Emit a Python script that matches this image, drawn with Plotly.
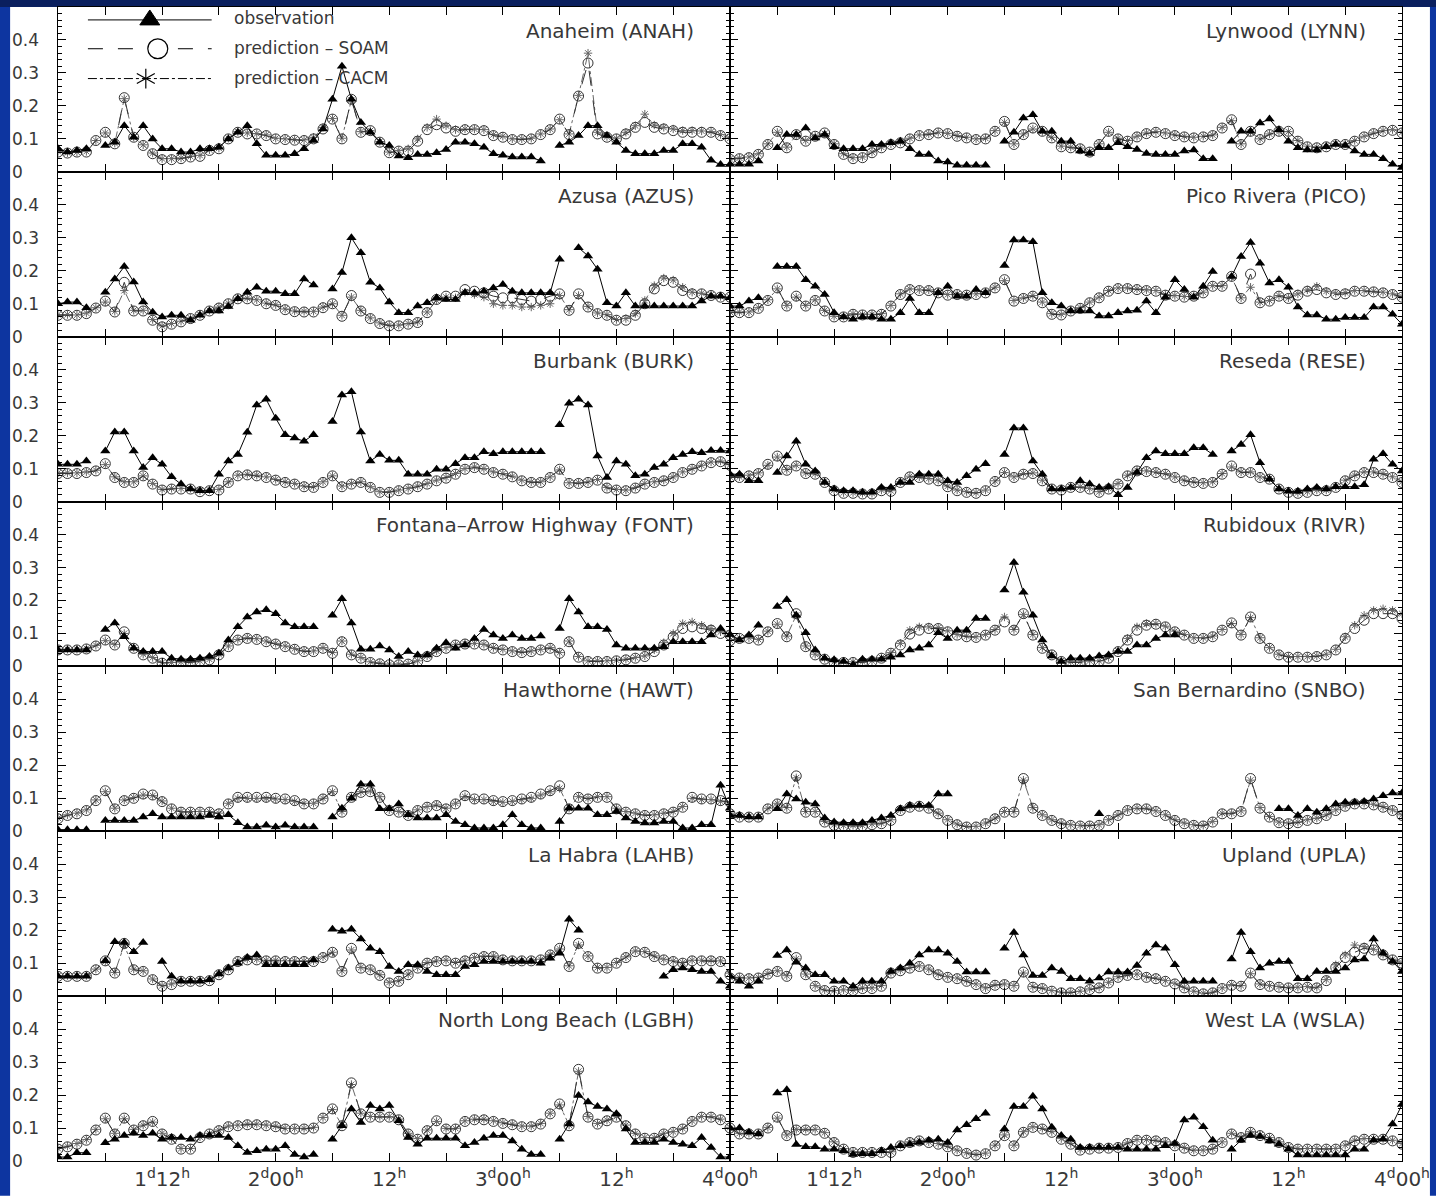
import plotly.graph_objects as go
from plotly.subplots import make_subplots

N = None

# Hour of the episode (hours counted from 0d00h): 25 = 1d01h ... 96 = 4d00h
hours = list(range(25, 97))

# ---------------- ozone, ppm ----------------
obs_anah = [
    .07, .06, .065, .07, N, .08, .09, .14, .105, .14, .10, .07,
    .07, .06, .06, .07, .07, .075, .10, .12, .14, .085, .05, .05,
    .05, .055, .07, .095, .13, .22, .32, .22, .15, .12, .09, .08,
    .048, .043, .053, .053, .058, .068, .09, .09, .085, .075, .055, .05,
    .045, .045, .045, .033, N, .08, .09, .11, .14, .14, .11, .09,
    .065, .055, .055, .055, .065, .065, .085, .085, .075, .035, .022, .022]
soam_anah = [
    .06, .057, .06, .06, .095, .12, .085, .225, .105, .08, .055, .037,
    .037, .04, .045, .047, .065, .07, .10, .12, .115, .115, .11, .10,
    .098, .096, .095, .10, .13, .16, .10, .22, .12, .125, .09, .058,
    .063, .063, .093, .128, .143, .133, .123, .128, .128, .125, .11, .105,
    .098, .098, .10, .113, .128, .16, .113, .23, .33, .115, .105, .10,
    .115, .135, .15, .135, .13, .125, .12, .12, .12, .12, .11, .10]
cacm_anah = [
    .062, .058, .06, .062, .095, .118, .087, .222, .105, .082, .057, .04,
    .04, .042, .047, .05, .067, .072, .102, .122, .118, .116, .112, .102,
    .10, .098, .097, .105, .135, .162, .102, .218, .122, .125, .092, .06,
    .065, .07, .10, .135, .16, .14, .128, .13, .13, .128, .113, .108,
    .10, .10, .102, .115, .13, .158, .115, .232, .36, .12, .107, .102,
    .12, .14, .175, .142, .135, .13, .125, .125, .124, .122, .113, .102]

obs_lynn = [
    .023, .023, .023, .033, N, .073, .113, .113, .133, .103, .113, .076,
    .07, .07, .07, .083, .083, .088, .093, .07, .053, .053, .033, .03,
    .02, .02, .02, .02, N, .093, .12, .163, .173, .123, .123, .093,
    .093, .063, .056, .073, .073, .088, .076, .068, .056, .053, .053, .053,
    .063, .066, .04, .04, N, .093, .123, .123, .148, .16, .128, .093,
    .073, .066, .066, .076, .083, .08, .063, .053, .053, .04, .023, .013]
soam_lynn = [
    .038, .04, .043, .053, .083, .123, .073, .113, .093, .108, .118, .083,
    .053, .04, .043, .058, .073, .083, .088, .10, .11, .113, .118, .116,
    .108, .103, .098, .10, .123, .153, .083, .113, .133, .123, .103, .076,
    .073, .07, .06, .083, .123, .10, .093, .106, .116, .12, .116, .11,
    .106, .103, .106, .11, .133, .158, .083, .123, .098, .113, .123, .123,
    .093, .076, .073, .076, .083, .083, .093, .106, .116, .123, .126, .118]
cacm_lynn = [
    .04, .042, .045, .055, .085, .12, .075, .11, .095, .108, .116, .085,
    .055, .043, .045, .06, .075, .085, .09, .102, .112, .115, .12, .117,
    .11, .105, .10, .102, .125, .15, .085, .115, .13, .122, .105, .078,
    .075, .072, .062, .085, .12, .102, .095, .108, .118, .122, .118, .112,
    .108, .105, .108, .112, .135, .155, .085, .12, .10, .115, .122, .122,
    .095, .078, .075, .078, .085, .085, .095, .108, .118, .125, .128, .12]

obs_azus = [
    .10, .105, .105, .088, N, .135, .175, .213, .166, .105, .074, .06,
    .065, .065, .05, .065, .078, .078, .092, .115, .135, .15, .138, .138,
    .13, .13, .175, .157, N, .145, .195, .30, .255, .165, .148, .105,
    .073, .073, .093, .103, .118, .113, .113, .133, .133, .138, .148, .158,
    .138, .133, .133, .133, .133, .235, N, .27, .245, .205, .103, .093,
    .133, .093, .093, .093, .093, .093, .093, .093, .108, .123, .123, .118]
soam_azus = [
    .065, .065, .065, .07, .087, .108, .075, .165, .078, .078, .05, .03,
    .038, .045, .055, .065, .078, .087, .10, .115, .115, .11, .10, .095,
    .082, .076, .075, .075, .088, .10, .062, .125, .078, .055, .04, .033,
    .033, .038, .043, .073, .113, .123, .123, .143, .138, .133, .123, .118,
    .118, .113, .108, .113, .123, .13, .08, .13, .09, .07, .065, .05,
    .05, .065, .10, .145, .17, .165, .14, .13, .13, .125, .12, .12]
cacm_azus = [
    .067, .067, .066, .072, .088, .105, .077, .14, .08, .08, .052, .033,
    .04, .047, .057, .067, .08, .09, .102, .117, .117, .112, .102, .097,
    .084, .078, .077, .077, .09, .10, .065, .12, .08, .057, .042, .035,
    .035, .04, .045, .075, .11, .12, .118, .135, .128, .12, .10, .095,
    .095, .09, .09, .095, .10, .125, .082, .125, .092, .072, .067, .052,
    .055, .07, .11, .155, .178, .172, .15, .135, .132, .127, .122, .12]

obs_pico = [
    .093, .093, .108, .118, N, .213, .213, .213, .173, .153, .128, .073,
    .06, .053, .06, .06, .053, .053, .073, .116, .073, .073, .133, .153,
    .123, .123, .143, .133, N, .216, .293, .293, .288, .133, .103, .093,
    .078, .078, .078, .063, .063, .073, .078, .08, .108, .073, .12, .173,
    .143, .12, .153, .198, N, .183, .243, .286, .223, .163, .173, .15,
    .09, .066, .066, .053, .053, .058, .058, .058, .09, .09, .068, .038]
soam_pico = [
    .073, .073, .073, .086, .11, .148, .093, .123, .093, .11, .078, .06,
    .06, .068, .066, .066, .068, .093, .128, .143, .14, .14, .133, .126,
    .128, .126, .128, .133, .148, .173, .108, .116, .123, .103, .068, .066,
    .078, .086, .103, .118, .138, .146, .146, .143, .14, .138, .126, .123,
    .12, .123, .133, .153, .153, .183, .116, .19, .103, .108, .123, .116,
    .126, .138, .143, .133, .128, .13, .138, .138, .136, .133, .128, .12]
cacm_pico = [
    .075, .075, .075, .088, .112, .145, .095, .12, .095, .112, .08, .062,
    .062, .07, .068, .068, .07, .095, .13, .145, .142, .142, .135, .128,
    .13, .128, .13, .135, .15, .17, .11, .118, .125, .105, .07, .068,
    .08, .088, .105, .12, .14, .148, .148, .145, .142, .14, .128, .125,
    .122, .125, .135, .155, .155, .18, .118, .15, .105, .11, .125, .118,
    .13, .142, .153, .138, .132, .134, .14, .14, .138, .135, .13, .122]

obs_burk = [
    .113, .113, .113, .123, N, .153, .211, .211, .153, .103, .133, .113,
    .075, .053, .038, .033, .033, .083, .123, .143, .21, .293, .31, .253,
    .203, .193, .183, .203, N, .243, .323, .333, .211, .123, .143, .125,
    .125, .083, .083, .083, .098, .098, .115, .133, .133, .151, .145, .151,
    .151, .151, .151, .151, N, .233, .298, .31, .293, .138, .073, .123,
    .113, .078, .083, .103, .113, .133, .143, .151, .148, .155, .155, .153]
soam_burk = [
    .085, .085, .085, .088, .093, .115, .073, .058, .058, .078, .053, .035,
    .038, .038, .038, .03, .033, .035, .058, .078, .081, .078, .073, .065,
    .058, .053, .045, .043, .058, .078, .045, .053, .058, .043, .028, .028,
    .033, .038, .045, .053, .063, .071, .083, .098, .103, .098, .088, .083,
    .075, .063, .058, .058, .073, .098, .055, .055, .058, .065, .041, .035,
    .033, .041, .053, .058, .063, .073, .088, .098, .108, .118, .121, .11]
cacm_burk = [
    .087, .087, .087, .09, .095, .112, .075, .06, .06, .078, .055, .037,
    .04, .04, .04, .033, .035, .037, .06, .08, .083, .08, .075, .067,
    .06, .055, .047, .045, .06, .078, .047, .055, .06, .045, .03, .03,
    .035, .04, .047, .055, .065, .073, .085, .10, .105, .10, .09, .085,
    .077, .065, .06, .06, .075, .096, .057, .057, .06, .067, .043, .037,
    .035, .043, .055, .06, .065, .075, .09, .10, .11, .12, .123, .112]

obs_rese = [
    .083, .083, .063, .063, N, .088, .138, .183, .113, .093, .058, .038,
    .033, .033, .028, .028, .043, .043, .058, .058, .083, .083, .083, .063,
    .058, .078, .098, .115, N, .143, .223, .223, .123, .083, .038, .038,
    .043, .063, .053, .043, .045, .021, .043, .088, .133, .153, .145, .145,
    .145, .163, .163, .143, N, .153, .173, .203, .118, .068, .038, .031,
    .031, .038, .043, .038, .045, .045, .045, .051, .128, .145, .113, .093]
soam_rese = [
    .073, .073, .078, .085, .113, .138, .095, .108, .085, .083, .058, .033,
    .025, .025, .023, .023, .033, .031, .058, .075, .073, .068, .063, .045,
    .033, .028, .025, .033, .061, .088, .073, .083, .085, .063, .038, .035,
    .043, .043, .038, .028, .038, .053, .078, .093, .091, .088, .083, .073,
    .063, .058, .055, .058, .083, .108, .088, .088, .073, .068, .038, .028,
    .025, .028, .033, .033, .043, .063, .078, .088, .088, .083, .073, .058]
cacm_rese = [
    .075, .075, .08, .087, .11, .135, .097, .11, .087, .085, .06, .035,
    .027, .027, .025, .025, .035, .033, .06, .077, .075, .07, .065, .047,
    .035, .03, .027, .035, .063, .088, .075, .085, .087, .065, .04, .037,
    .045, .045, .04, .03, .04, .055, .08, .095, .093, .09, .085, .075,
    .065, .06, .057, .06, .085, .105, .09, .09, .075, .07, .04, .03,
    .027, .03, .035, .035, .045, .065, .08, .09, .09, .085, .075, .06]

obs_font = [
    .05, .05, .05, .05, N, .112, .132, .09, .055, .045, .045, .045,
    .025, .022, .022, .025, .03, .04, .08, .12, .15, .165, .172, .16,
    .132, .12, .12, .12, N, .155, .205, .132, .052, .052, .062, .05,
    .03, .045, .035, .035, .055, .072, .055, .065, .085, .112, .095, .085,
    .095, .085, .085, .092, N, .115, .205, .165, .12, .12, .112, .065,
    .055, .055, .055, .055, .06, .075, .075, .075, .075, .095, .115, .095]
soam_font = [
    .05, .05, .05, .053, .062, .08, .065, .105, .055, .035, .025, .01,
    .01, .012, .012, .015, .02, .035, .06, .08, .085, .082, .075, .068,
    .06, .052, .045, .045, .055, .04, .075, .035, .025, .012, .008, .005,
    .005, .007, .015, .03, .045, .055, .065, .068, .068, .065, .055, .05,
    .045, .042, .045, .05, .055, .04, .075, .028, .015, .015, .015, .017,
    .02, .025, .03, .045, .065, .09, .115, .12, .115, .11, .10, .095]
cacm_font = [
    .052, .052, .052, .055, .064, .078, .067, .10, .057, .037, .027, .012,
    .012, .014, .014, .017, .022, .037, .062, .082, .087, .084, .077, .07,
    .062, .054, .047, .047, .057, .042, .077, .037, .027, .014, .01, .007,
    .007, .009, .017, .032, .047, .057, .067, .07, .07, .067, .057, .052,
    .047, .044, .047, .052, .057, .042, .077, .03, .017, .017, .017, .019,
    .022, .027, .032, .05, .072, .10, .13, .135, .125, .115, .105, .10]

obs_rivr = [
    .097, .08, .095, .125, N, .182, .202, .155, .102, .05, .025, .02,
    .015, .005, .022, .022, .022, .028, .035, .05, .055, .065, .102, .085,
    .11, .11, .145, .145, N, .232, .315, .225, .155, .08, .032, .015,
    .025, .025, .025, .032, .035, .045, .045, .065, .065, .085, .095, .095,
    N, N, N, N, N, N, N, N, N, N, N, N,
    N, N, N, N, N, N, N, N, N, N, N, N]
soam_rivr = [
    .078, .085, .085, .08, .105, .13, .09, .16, .06, .035, .022, .012,
    .012, .012, .012, .015, .025, .04, .065, .098, .11, .115, .115, .105,
    .095, .09, .088, .095, .11, .135, .11, .16, .095, .055, .035, .015,
    .012, .012, .015, .015, .025, .045, .08, .11, .125, .128, .12, .105,
    .095, .085, .085, .09, .11, .132, .095, .15, .085, .055, .035, .028,
    .028, .028, .03, .035, .05, .085, .115, .14, .16, .16, .16, .145]
cacm_rivr = [
    .08, .087, .087, .082, .107, .128, .092, .155, .062, .037, .024, .014,
    .014, .014, .014, .017, .027, .042, .07, .11, .12, .12, .118, .108,
    .097, .092, .09, .097, .112, .15, .112, .158, .097, .057, .037, .017,
    .014, .014, .017, .017, .027, .047, .085, .12, .13, .13, .122, .107,
    .097, .087, .087, .092, .112, .13, .097, .148, .087, .057, .037, .03,
    .03, .03, .032, .037, .052, .09, .125, .155, .17, .175, .17, .16]

obs_hawt = [
    .005, .005, .005, .005, N, .033, .033, .033, .033, .043, .053, .043,
    .043, .043, .043, .043, .048, .043, .05, .026, .013, .013, .018, .013,
    .018, .013, .013, .013, N, .043, .07, .10, .143, .143, .068, .068,
    .083, .05, .04, .04, .04, .05, .03, .02, .01, .01, .01, .02,
    .05, .02, .01, .01, N, .03, .07, .07, .07, .05, .05, .06,
    .04, .03, .025, .025, .03, .03, .01, .01, .02, .02, .14, .07]
soam_hawt = [
    .038, .048, .053, .063, .093, .123, .068, .093, .10, .113, .11, .09,
    .068, .058, .058, .058, .058, .053, .083, .103, .103, .103, .103, .10,
    .098, .093, .083, .083, .098, .123, .058, .103, .118, .12, .103, .063,
    .058, .048, .063, .073, .078, .068, .083, .108, .098, .098, .093, .09,
    .093, .098, .103, .113, .123, .138, .068, .103, .098, .103, .103, .068,
    .058, .053, .048, .048, .053, .058, .073, .103, .098, .098, .093, .088]
cacm_hawt = [
    .04, .05, .055, .065, .095, .12, .07, .095, .102, .11, .108, .092,
    .07, .06, .06, .06, .06, .055, .085, .10, .10, .10, .10, .098,
    .096, .091, .085, .085, .10, .12, .06, .105, .12, .122, .105, .065,
    .06, .05, .065, .075, .08, .07, .085, .105, .096, .096, .091, .088,
    .091, .096, .10, .11, .12, .13, .07, .105, .10, .105, .105, .07,
    .06, .055, .05, .05, .055, .06, .075, .10, .096, .096, .091, .086]

obs_snbo = [
    .048, .048, .043, .043, N, .068, .113, .098, .088, .083, .04, .028,
    .026, .026, .026, .033, .04, .048, .068, .078, .078, .078, .113, .113,
    N, N, N, N, N, N, N, N, N, N, N, N,
    N, N, N, .053, N, N, N, N, N, N, N, N,
    N, N, N, N, N, N, N, N, N, N, .068, .068,
    .048, .068, .058, .068, .083, .088, .088, .09, .098, .108, .116, .116]
soam_snbo = [
    .053, .043, .043, .043, .068, .083, .07, .168, .058, .058, .028, .018,
    .016, .016, .016, .02, .023, .033, .063, .073, .076, .07, .053, .033,
    .02, .013, .013, .023, .038, .058, .058, .16, .07, .048, .033, .023,
    .018, .016, .016, .018, .033, .048, .063, .068, .068, .06, .048, .033,
    .023, .018, .016, .028, .053, .053, .06, .16, .07, .043, .026, .023,
    .026, .033, .038, .048, .063, .076, .083, .083, .08, .073, .063, .048]
cacm_snbo = [
    .055, .045, .045, .045, .07, .085, .072, .162, .06, .06, .03, .02,
    .018, .018, .018, .022, .025, .035, .065, .075, .078, .072, .055, .035,
    .022, .015, .015, .025, .04, .06, .06, .155, .072, .05, .035, .025,
    .02, .018, .018, .02, .035, .05, .065, .07, .07, .062, .05, .035,
    .025, .02, .018, .03, .055, .055, .062, .155, .072, .045, .028, .025,
    .028, .035, .04, .05, .065, .078, .085, .085, .082, .075, .065, .05]

obs_lahb = [
    .06, .06, .06, .06, N, .107, .165, .163, .135, .163, N, .105,
    .06, .045, .045, .045, .05, .067, .085, .10, .117, .125, .095, .095,
    .095, .095, .095, .11, N, .203, .197, .203, .173, .145, .135, .09,
    .075, .095, .095, .075, .065, .065, .065, .09, .095, .105, .105, .105,
    .105, .105, .105, .10, .115, .13, .233, .20, N, N, N, N,
    N, N, N, N, .06, .08, .085, .08, .075, .075, .045, .03]
soam_lahb = [
    .06, .06, .06, .06, .08, .107, .07, .16, .08, .075, .05, .03,
    .035, .045, .045, .045, .047, .065, .08, .105, .11, .11, .107, .107,
    .105, .105, .105, .105, .117, .133, .075, .145, .085, .08, .063, .04,
    .045, .065, .085, .10, .105, .107, .10, .107, .115, .12, .12, .11,
    .107, .107, .107, .11, .125, .145, .09, .16, .12, .085, .085, .10,
    .117, .135, .133, .12, .11, .105, .10, .107, .107, .107, .105, .065]
cacm_lahb = [
    .062, .062, .062, .062, .082, .105, .072, .155, .082, .077, .052, .032,
    .037, .047, .047, .047, .049, .067, .082, .107, .112, .112, .109, .109,
    .107, .107, .107, .107, .119, .133, .077, .14, .087, .082, .065, .042,
    .047, .067, .087, .102, .107, .109, .102, .109, .117, .122, .122, .112,
    .109, .109, .109, .112, .127, .143, .092, .155, .122, .087, .087, .102,
    .119, .137, .135, .122, .112, .107, .102, .109, .109, .109, .107, .07]

obs_upla = [
    .06, .045, .03, .045, N, .123, .14, .103, .085, .065, .065, .045,
    .045, .03, .045, .045, .045, .075, .085, .10, .125, .14, .14, .13,
    .105, .073, .073, .073, N, .145, .193, .125, .063, .063, .085, .075,
    .053, .053, .045, .055, .073, .073, .073, .093, .13, .155, .145, .095,
    .045, .045, .045, .045, N, .113, .193, .135, .085, .10, .105, .105,
    .053, .053, .075, .075, .075, .085, .11, .113, .173, .13, .105, .075]
soam_upla = [
    .055, .055, .053, .055, .067, .075, .06, .117, .065, .03, .017, .015,
    .017, .017, .023, .023, .03, .07, .077, .085, .09, .08, .065, .057,
    .053, .045, .035, .023, .033, .035, .03, .073, .027, .023, .015, .01,
    .01, .013, .02, .025, .04, .057, .063, .065, .057, .053, .045, .037,
    .025, .013, .007, .01, .023, .033, .03, .07, .035, .03, .027, .025,
    .025, .027, .025, .047, .087, .117, .133, .145, .14, .125, .11, .10]
cacm_upla = [
    .057, .057, .055, .057, .069, .077, .062, .113, .067, .032, .019, .017,
    .019, .019, .025, .025, .032, .072, .079, .087, .092, .082, .067, .059,
    .055, .047, .037, .025, .035, .037, .032, .07, .029, .025, .017, .012,
    .012, .015, .022, .027, .042, .059, .065, .067, .059, .055, .047, .039,
    .027, .015, .009, .012, .025, .035, .032, .068, .037, .032, .029, .027,
    .027, .029, .027, .05, .095, .125, .155, .15, .142, .127, .112, .102]

obs_lgbh = [
    .012, .012, .025, .025, N, .055, .066, .077, .084, .077, .084, .066,
    .071, .071, .066, .077, .077, .077, .071, .046, .026, .031, .036, .036,
    .046, .02, .012, .02, N, .066, .107, .158, .117, .168, .158, .168,
    .122, .071, .051, .069, .069, .069, .069, .046, .056, .069, .077, .077,
    .061, .036, .02, .02, N, .066, .112, .199, .179, .165, .158, .143,
    .097, .056, .056, .056, .066, .056, .051, .046, .071, .041, .012, .012]
soam_lgbh = [
    .036, .043, .051, .063, .094, .13, .082, .13, .094, .107, .12, .082,
    .066, .036, .036, .071, .082, .092, .104, .107, .11, .11, .107, .104,
    .097, .097, .097, .10, .13, .158, .107, .237, .143, .133, .133, .133,
    .125, .082, .066, .092, .122, .097, .097, .12, .125, .125, .12, .114,
    .11, .104, .104, .112, .143, .173, .107, .278, .133, .112, .122, .133,
    .107, .082, .069, .069, .082, .087, .097, .12, .133, .133, .125, .10]
cacm_lgbh = [
    .038, .045, .053, .065, .096, .128, .084, .128, .096, .109, .118, .084,
    .068, .038, .038, .073, .084, .094, .106, .109, .112, .112, .109, .106,
    .099, .099, .099, .102, .132, .156, .109, .232, .145, .135, .135, .135,
    .127, .084, .068, .094, .12, .099, .099, .122, .127, .127, .122, .116,
    .112, .106, .106, .114, .145, .17, .109, .272, .135, .114, .124, .135,
    .109, .084, .071, .071, .084, .089, .099, .122, .135, .135, .127, .102]

obs_wsla = [
    .10, .10, .087, .082, N, .206, .216, .05, .043, .043, .036, .036,
    .031, .02, .022, .022, .031, .041, .046, .051, .056, .063, .066, .056,
    .094, .11, .128, .145, N, .097, .165, .165, .196, .158, .102, .077,
    .066, .041, .041, .041, .041, .041, .036, .036, .036, .036, .046, .053,
    .124, .133, .104, .063, N, .036, .063, .077, .074, .061, .051, .036,
    .018, .018, .018, .018, .018, .018, .036, .036, .063, .066, .112, .171]
soam_wsla = [
    .10, .082, .082, .082, .10, .133, .077, .094, .094, .094, .084, .056,
    .036, .026, .026, .026, .026, .026, .046, .056, .061, .056, .051, .043,
    .031, .023, .018, .022, .046, .077, .046, .087, .102, .097, .087, .066,
    .051, .033, .036, .039, .039, .041, .053, .063, .063, .061, .056, .046,
    .039, .031, .031, .036, .056, .082, .071, .087, .077, .069, .056, .041,
    .036, .036, .036, .036, .036, .046, .061, .066, .066, .066, .061, .051]
cacm_wsla = [
    .098, .084, .084, .084, .102, .13, .079, .096, .096, .096, .086, .058,
    .038, .028, .028, .028, .028, .028, .048, .058, .063, .058, .053, .045,
    .033, .025, .02, .024, .048, .079, .048, .089, .104, .099, .089, .068,
    .053, .035, .038, .041, .041, .043, .055, .065, .065, .063, .058, .048,
    .041, .033, .033, .038, .058, .084, .073, .089, .079, .071, .058, .043,
    .038, .038, .038, .038, .038, .048, .063, .068, .068, .068, .063, .053]

# panels in reading order (left column, right column)
panels = [
    ("Anaheim (ANAH)", obs_anah, soam_anah, cacm_anah),
    ("Lynwood (LYNN)", obs_lynn, soam_lynn, cacm_lynn),
    ("Azusa (AZUS)", obs_azus, soam_azus, cacm_azus),
    ("Pico Rivera (PICO)", obs_pico, soam_pico, cacm_pico),
    ("Burbank (BURK)", obs_burk, soam_burk, cacm_burk),
    ("Reseda (RESE)", obs_rese, soam_rese, cacm_rese),
    ("Fontana\u2013Arrow Highway (FONT)", obs_font, soam_font, cacm_font),
    ("Rubidoux (RIVR)", obs_rivr, soam_rivr, cacm_rivr),
    ("Hawthorne (HAWT)", obs_hawt, soam_hawt, cacm_hawt),
    ("San Bernardino (SNBO)", obs_snbo, soam_snbo, cacm_snbo),
    ("La Habra (LAHB)", obs_lahb, soam_lahb, cacm_lahb),
    ("Upland (UPLA)", obs_upla, soam_upla, cacm_upla),
    ("North Long Beach (LGBH)", obs_lgbh, soam_lgbh, cacm_lgbh),
    ("West LA (WSLA)", obs_wsla, soam_wsla, cacm_wsla),
]

# labelled 12-hourly ticks; unlabelled 6-hourly ticks in between
x_label_vals = [36, 48, 60, 72, 84, 96]
x_label_text = ["1<sup>d</sup>12<sup>h</sup>", "2<sup>d</sup>00<sup>h</sup>",
                "12<sup>h</sup>", "3<sup>d</sup>00<sup>h</sup>",
                "12<sup>h</sup>", "4<sup>d</sup>00<sup>h</sup>"]
y_labels = [0, 0.1, 0.2, 0.3, 0.4]

W, H = 1436, 1197
ML, MR, MT, MB = 58, 31, 6, 30
PW, PH = W - ML - MR, H - MT - MB
FONT = "DejaVu Sans"
TXT = "#383838"


def px_x(p):
    return (p - ML) / PW


def px_y(p):
    return (H - MB - p) / PH


fig = make_subplots(rows=7, cols=2, horizontal_spacing=0, vertical_spacing=0)

for k, (name, obs, soam, cacm) in enumerate(panels):
    r, c = k // 2 + 1, k % 2 + 1
    fig.add_trace(go.Scatter(
        x=hours, y=cacm, mode="lines+markers", name="prediction \u2013 CACM",
        line=dict(color="#666", width=1, dash="dashdot"),
        marker=dict(symbol="asterisk-open", size=7, line=dict(color="#555", width=1)),
        connectgaps=False, showlegend=False), row=r, col=c)
    fig.add_trace(go.Scatter(
        x=hours, y=soam, mode="lines+markers", name="prediction \u2013 SOAM",
        line=dict(color="#333", width=1, dash="longdash"),
        marker=dict(symbol="circle-open", size=10, line=dict(color="#333", width=1)),
        connectgaps=False, showlegend=False), row=r, col=c)
    fig.add_trace(go.Scatter(
        x=hours, y=obs, mode="lines+markers", name="observation",
        line=dict(color="black", width=1),
        marker=dict(symbol="triangle-up", size=9, color="black"),
        connectgaps=False, showlegend=False), row=r, col=c)

    bottom = r == 7
    fig.update_xaxes(
        row=r, col=c, range=[25, 96], tickmode="array", tickvals=x_label_vals,
        ticktext=x_label_text, showticklabels=bottom,
        ticks="inside", ticklen=8, tickwidth=1, tickcolor="black",
        minor=dict(tick0=30, dtick=6, ticks="inside", ticklen=8, tickwidth=1,
                   tickcolor="black", showgrid=False),
        showline=True, linecolor="black", linewidth=1,
        mirror="ticks", showgrid=False, zeroline=False,
        tickfont=dict(family=FONT, size=20, color=TXT))
    fig.update_yaxes(
        row=r, col=c, range=[0, 0.5], tickmode="array",
        tickvals=[0.1, 0.2, 0.3, 0.4], showticklabels=False,
        ticks="inside", ticklen=8, tickwidth=1, tickcolor="black",
        minor=dict(tick0=0, dtick=0.02, ticks="inside", ticklen=4,
                   tickwidth=1, tickcolor="black", showgrid=False),
        showline=True, linecolor="black", linewidth=1, mirror="ticks",
        showgrid=False, zeroline=False)

    ax = "" if k == 0 else str(k + 1)
    fig.add_annotation(
        text=name, xref=f"x{ax} domain", yref=f"y{ax} domain",
        x=0.949, y=0.855, xanchor="right", yanchor="middle", showarrow=False,
        font=dict(family=FONT, size=20, color=TXT))
    if c == 1:
        for v in y_labels:
            fig.add_annotation(
                text=f"{v:g}", xref="paper", yref=f"y{ax}", x=px_x(10), y=v,
                xanchor="left", yanchor="middle", showarrow=False,
                font=dict(family=FONT, size=17, color=TXT))

shapes = []
# blue frame round the white page (top, left, right)
shapes.append(dict(type="rect", xref="paper", yref="paper", layer="below",
                   x0=px_x(-5), x1=px_x(W + 5), y0=px_y(6), y1=px_y(-5),
                   fillcolor="#0a1f5e", line=dict(width=0)))
shapes.append(dict(type="rect", xref="paper", yref="paper", layer="below",
                   x0=px_x(-5), x1=px_x(10), y0=px_y(H + 5), y1=px_y(6),
                   fillcolor="#0d35a0", line=dict(width=0)))
shapes.append(dict(type="rect", xref="paper", yref="paper", layer="below",
                   x0=px_x(1433), x1=px_x(W + 5), y0=px_y(H + 5), y1=px_y(6),
                   fillcolor="#0d35a0", line=dict(width=0)))

# key: line samples with their marker glyphs
rows_y = [19, 48, 78]
dashes = ["solid", "longdash", "dashdot"]
for yy, d in zip(rows_y, dashes):
    shapes.append(dict(type="line", xref="paper", yref="paper",
                       x0=px_x(88), x1=px_x(212), y0=px_y(yy), y1=px_y(yy),
                       line=dict(color="black", width=1, dash=d)))
# triangle
tx, ty = 150, rows_y[0]
shapes.append(dict(type="path", xref="paper", yref="paper",
                   path=(f"M {px_x(tx - 10)},{px_y(ty + 5)} L {px_x(tx + 10)},{px_y(ty + 5)} "
                         f"L {px_x(tx)},{px_y(ty - 10)} Z"),
                   fillcolor="black", line=dict(color="black", width=1)))
# circle
cx, cy = 158, rows_y[1]
shapes.append(dict(type="circle", xref="paper", yref="paper",
                   x0=px_x(cx - 10), x1=px_x(cx + 10), y0=px_y(cy + 10), y1=px_y(cy - 10),
                   fillcolor="white", line=dict(color="black", width=1.2)))
# asterisk
sx, sy = 146, rows_y[2]
for dx, dy in [(0, 10), (9, 5), (9, -5)]:
    shapes.append(dict(type="line", xref="paper", yref="paper",
                       x0=px_x(sx - dx), x1=px_x(sx + dx), y0=px_y(sy - dy), y1=px_y(sy + dy),
                       line=dict(color="black", width=1.2)))
for yy, label in zip([17, 47, 77], ["observation", "prediction \u2013 SOAM",
                                    "prediction \u2013 CACM"]):
    fig.add_annotation(text=label, xref="paper", yref="paper", x=px_x(232), y=px_y(yy),
                       xanchor="left", yanchor="middle", showarrow=False,
                       font=dict(family=FONT, size=17, color=TXT))

fig.update_layout(
    width=W, height=H, margin=dict(l=ML, r=MR, t=MT, b=MB),
    paper_bgcolor="white", plot_bgcolor="white",
    font=dict(family=FONT, color=TXT), shapes=shapes, showlegend=False)

fig.write_html("out.html")
